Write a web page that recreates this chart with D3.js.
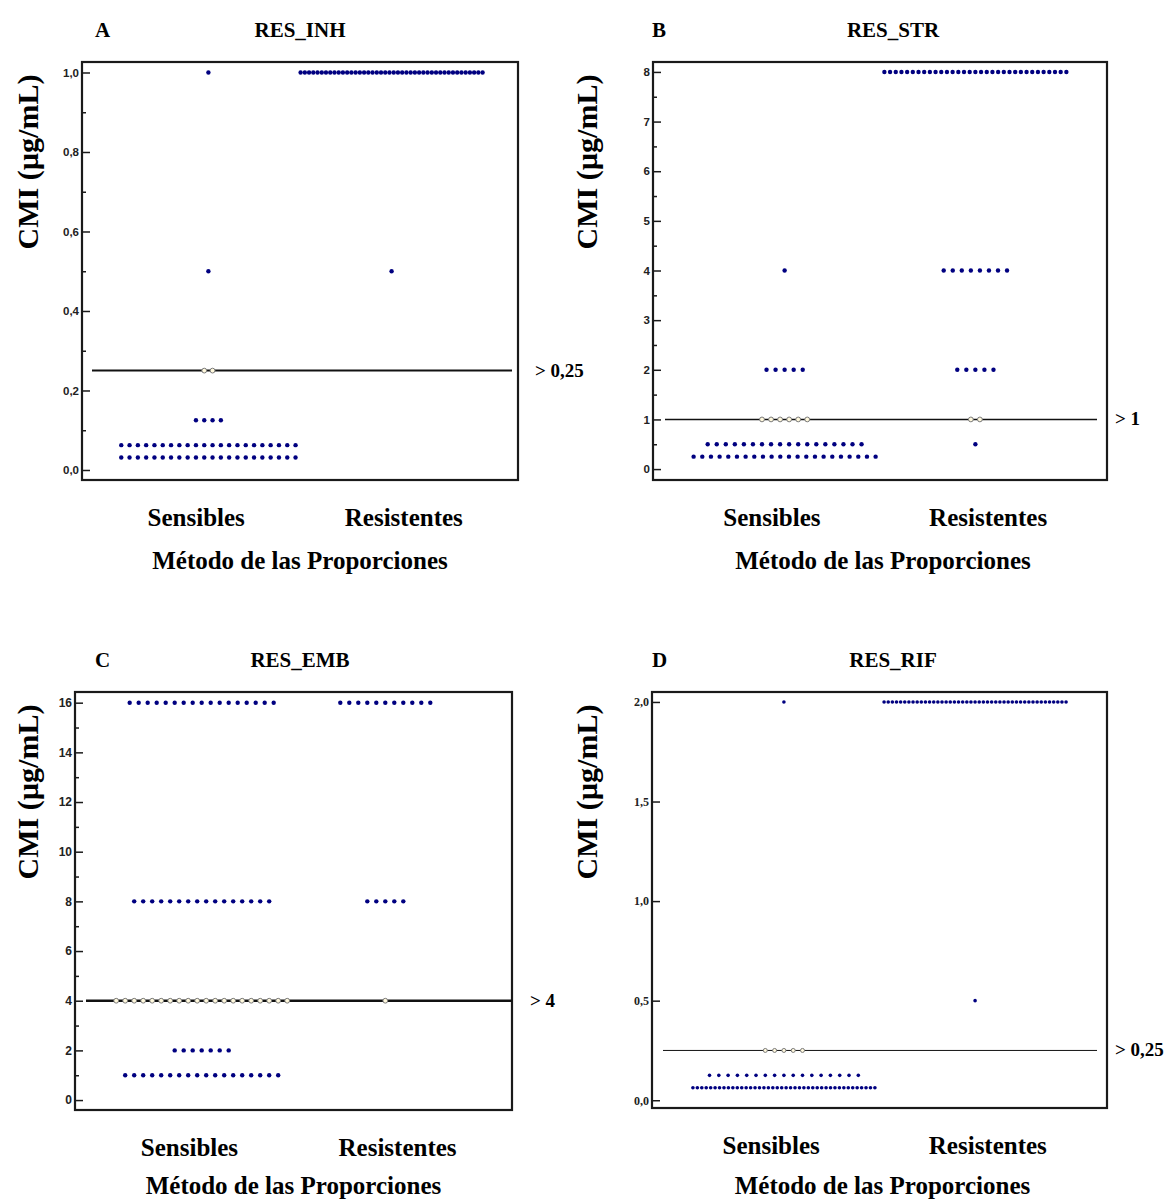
<!DOCTYPE html>
<html>
<head>
<meta charset="utf-8">
<script src="https://cdn.jsdelivr.net/npm/d3@7"></script>
<style>
  body { margin: 0; background: #fff; }
  svg text { font-family: "Liberation Serif", "Times New Roman", serif; font-weight: bold; }
</style>
</head>
<body>
<svg id="chart" width="1168" height="1203"></svg>
<script>
// categories
const groups = ["Sensibles", "Resistentes"];

// A - RES_INH
const inhLevels = [1, 0.5, 0.25, 0.125, 0.0625, 0.03125];
const inhSensibles = [1, 1, 2, 4, 22, 22];
const inhResistentes = [44, 1, 0, 0, 0, 0];
const inhTicks = [0, 0.2, 0.4, 0.6, 0.8, 1.0];
const inhMinor = [0.1, 0.3, 0.5, 0.7, 0.9];

// B - RES_STR
const strLevels = [8, 4, 2, 1, 0.5, 0.25];
const strSensibles = [0, 1, 5, 6, 18, 22];
const strResistentes = [33, 8, 5, 2, 1, 0];
const strTicks = [0, 1, 2, 3, 4, 5, 6, 7, 8];
const strMinor = [0.5, 1.5, 2.5, 3.5, 4.5, 5.5, 6.5, 7.5];

// C - RES_EMB
const embLevels = [16, 8, 4, 2, 1];
const embSensibles = [17, 16, 20, 7, 18];
const embResistentes = [11, 5, 1, 0, 0];
const embTicks = [0, 2, 4, 6, 8, 10, 12, 14, 16];
const embMinor = [1, 3, 5, 7, 9, 11, 13, 15];

// D - RES_RIF
const rifLevels = [2, 0.5, 0.25, 0.125, 0.0625];
const rifSensibles = [1, 0, 5, 17, 42];
const rifResistentes = [45, 1, 0, 0, 0];
const rifTicks = [0, 0.5, 1.0, 1.5, 2.0];
const rifMinor = [];

const letters = ["A", "B", "C", "D"];
const titles = ["RES_INH", "RES_STR", "RES_EMB", "RES_RIF"];
const cutoffs = [0.25, 1, 4, 0.25];
const cutoffLabels = ["> 0,25", "> 1", "> 4", "> 0,25"];

const commaFmt = d => d3.format(".1f")(d).replace(".", ",");

const panels = [
    {levels: inhLevels, sens: inhSensibles, res: inhResistentes, ticks: inhTicks, minor: inhMinor, fmt: commaFmt,
     x0: 82, x1: 518, y0: 62, y1: 480, dom: [-0.0252, 1.0264], gap: 8.3, r: 2.2, line: 2,
     tickFont: "Liberation Sans", tickSize: 11.5, letterX: 95, cutX: 535, lineX0: 92, lineX1: 512},
    {levels: strLevels, sens: strSensibles, res: strResistentes, ticks: strTicks, minor: strMinor, fmt: d3.format("d"),
     x0: 653, x1: 1107, y0: 62, y1: 480, dom: [-0.22, 8.2], gap: 9.05, r: 2.2, line: 1.5,
     tickFont: "Liberation Sans", tickSize: 11.5, letterX: 652, cutX: 1115, lineX0: 665, lineX1: 1097},
    {levels: embLevels, sens: embSensibles, res: embResistentes, ticks: embTicks, minor: embMinor, fmt: d3.format("d"),
     x0: 75, x1: 512, y0: 692, y1: 1110, dom: [-0.4, 16.43], gap: 9, r: 2.2, line: 2.5,
     tickFont: "Liberation Sans", tickSize: 12, letterX: 95, cutX: 530, lineX0: 86, lineX1: 512},
    {levels: rifLevels, sens: rifSensibles, res: rifResistentes, ticks: rifTicks, minor: rifMinor, fmt: commaFmt,
     x0: 652, x1: 1107, y0: 692, y1: 1108, dom: [-0.039, 2.05], gap: 9.3, r: 1.8, line: 1,
     tickFont: "Liberation Serif", tickSize: 12, letterX: 652, cutX: 1115, lineX0: 663, lineX1: 1097}
];

const svg = d3.select("#chart");

panels.forEach((p, i) => {
    const g = svg.append("g");
    const y = d3.scaleLinear().domain(p.dom).range([p.y1, p.y0]);
    const x = d3.scalePoint().domain(groups).range([p.x0, p.x1]).padding(0.69);
    const xLab = d3.scalePoint().domain(groups).range([p.x0, p.x1]).padding(0.55);
    const midX = (p.x0 + p.x1) / 2;
    const bottomRow = i >= 2;

    // frame
    g.append("rect")
        .attr("x", p.x0).attr("y", p.y0)
        .attr("width", p.x1 - p.x0).attr("height", p.y1 - p.y0)
        .attr("fill", "none").attr("stroke", "#1a1a1a").attr("stroke-width", 2.2);

    // minor ticks
    g.append("g")
        .attr("transform", `translate(${p.x0},0)`)
        .call(d3.axisLeft(y).tickValues(p.minor).tickSize(-4).tickFormat(""))
        .call(a => a.select(".domain").remove())
        .selectAll("line").attr("stroke", "#1a1a1a").attr("stroke-width", 1.5);

    // major ticks
    const ax = g.append("g")
        .attr("transform", `translate(${p.x0},0)`)
        .call(d3.axisLeft(y).tickValues(p.ticks).tickSize(-8).tickPadding(3).tickFormat(p.fmt));
    ax.select(".domain").remove();
    ax.selectAll("line").attr("stroke", "#1a1a1a").attr("stroke-width", 1.5);
    ax.selectAll("text")
        .style("font-family", p.tickFont)
        .style("font-weight", "bold")
        .style("font-size", p.tickSize + "px")
        .attr("fill", "#222");

    // cutoff line
    g.append("line")
        .attr("x1", p.lineX0).attr("x2", p.lineX1)
        .attr("y1", y(cutoffs[i])).attr("y2", y(cutoffs[i]))
        .attr("stroke", "#111").attr("stroke-width", p.line);
    g.append("text")
        .attr("x", p.cutX).attr("y", y(cutoffs[i]) + 6)
        .style("font-size", "19px")
        .text(cutoffLabels[i]);

    // dots
    const dots = [];
    [p.sens, p.res].forEach((counts, gi) => {
        counts.forEach((n, li) => {
            if (!n) return;
            const gap = n > 1 ? Math.min(p.gap, 182 / (n - 1)) : 0;
            for (let k = 0; k < n; k++) {
                dots.push({
                    cx: x(groups[gi]) + (k - (n - 1) / 2) * gap,
                    v: p.levels[li],
                    open: p.levels[li] === cutoffs[i]
                });
            }
        });
    });
    g.append("g").selectAll("circle")
        .data(dots)
        .join("circle")
        .attr("cx", d => d.cx)
        .attr("cy", d => y(d.v))
        .attr("r", d => d.open ? p.r + 0.2 : p.r)
        .attr("fill", d => d.open ? "#fff8dc" : "#000080")
        .attr("stroke", d => d.open ? "#7a7a7a" : "none")
        .attr("stroke-width", 1);

    // titles
    g.append("text")
        .attr("x", p.letterX).attr("y", p.y0 - 25)
        .style("font-size", "21px")
        .text(letters[i]);
    g.append("text")
        .attr("x", i % 2 === 0 ? 300 : 893).attr("y", p.y0 - 25)
        .attr("text-anchor", "middle")
        .style("font-size", "21px")
        .text(titles[i]);

    // y label
    const lx = i % 2 === 0 ? 38 : 597;
    const ly = p.y0 + 100;
    g.append("text")
        .attr("transform", `translate(${lx},${ly}) rotate(-90)`)
        .attr("text-anchor", "middle")
        .style("font-size", "30px")
        .text("CMI (µg/mL)");

    // x labels
    g.selectAll(".cat")
        .data(groups)
        .join("text")
        .attr("x", d => xLab(d))
        .attr("y", p.y1 + 46)
        .attr("text-anchor", "middle")
        .style("font-size", "25px")
        .text(d => d);
    g.append("text")
        .attr("x", midX + (i % 2 === 0 ? 0 : 3))
        .attr("y", bottomRow ? 1194 : p.y1 + 89)
        .attr("text-anchor", "middle")
        .style("font-size", "25px")
        .text("Método de las Proporciones");
});
</script>
</body>
</html>
